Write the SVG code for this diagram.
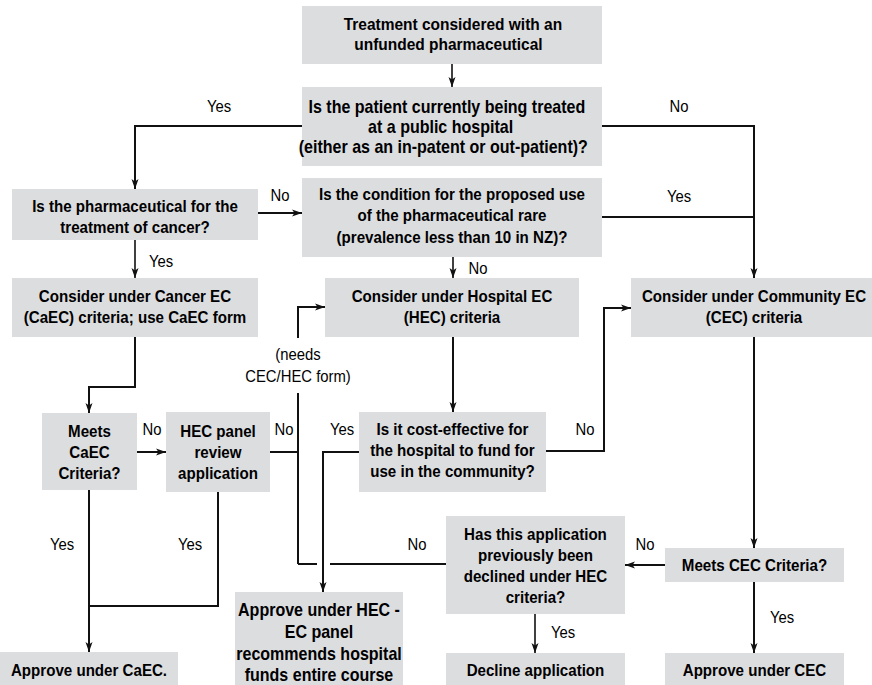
<svg xmlns="http://www.w3.org/2000/svg" width="872" height="685" viewBox="0 0 872 685">
<style>
.box{fill:#dcdddf;stroke:none}
.b{font-family:"Liberation Sans",Arial,sans-serif;font-weight:bold;font-size:16.8px;fill:#000;text-anchor:middle}
.b16{font-size:17.8px}
.l{font-family:"Liberation Sans",Arial,sans-serif;font-size:16.5px;fill:#000;text-anchor:middle}
.c path{fill:none;stroke:#111;stroke-width:2}
.c path.t{stroke-width:1.6}
</style>
<defs>
<marker id="ah" markerUnits="userSpaceOnUse" markerWidth="12" markerHeight="10" refX="10" refY="4" orient="auto">
<path d="M0,0.5 L10,4 L0,7.5 L2.5,4 z" fill="#111"/>
</marker>
</defs>
<rect width="872" height="685" fill="#fff"/>

<g class="c">
<path class="t" d="M452,64 V87" marker-end="url(#ah)"/>
<path d="M302,126 H135 V189" marker-end="url(#ah)"/>
<path d="M602,126 H754 V278" marker-end="url(#ah)"/>
<path d="M602,217 H754"/>
<path d="M258,213 H302" marker-end="url(#ah)"/>
<path class="t" d="M453,257 V278" marker-end="url(#ah)"/>
<path class="t" d="M135,240 V278" marker-end="url(#ah)"/>
<path d="M135,337 V387 H89 V413" marker-end="url(#ah)"/>
<path d="M137,452 H166" marker-end="url(#ah)"/>
<path d="M270,452 H298"/>
<path d="M298,564 V393"/>
<path d="M298,338 V307 H325" marker-end="url(#ah)"/>
<path d="M446,564 H330 M317,564 H298"/>
<path d="M359,452 H323 V592" marker-end="url(#ah)"/>
<path d="M546,451 H604 V308 H631" marker-end="url(#ah)"/>
<path d="M453,337 V412" marker-end="url(#ah)"/>
<path d="M754,337 V548" marker-end="url(#ah)"/>
<path d="M665,565 H625" marker-end="url(#ah)"/>
<path class="t" d="M535,614 V653" marker-end="url(#ah)"/>
<path d="M754,582 V653" marker-end="url(#ah)"/>
<path d="M89,490 V652" marker-end="url(#ah)"/>
<path d="M218,492 V606 H89"/>
</g>

<g id="labels">
<text class="l" x="219" y="112" transform="matrix(0.9 0 0 1 21.9 0)">Yes</text>
<text class="l" x="679" y="112" transform="matrix(0.9 0 0 1 67.9 0)">No</text>
<text class="l" x="280" y="201" transform="matrix(0.9 0 0 1 28 0)">No</text>
<text class="l" x="679" y="202" transform="matrix(0.9 0 0 1 67.9 0)">Yes</text>
<text class="l" x="161" y="267" transform="matrix(0.9 0 0 1 16.1 0)">Yes</text>
<text class="l" x="478" y="274" transform="matrix(0.9 0 0 1 47.8 0)">No</text>
<text class="l" x="298" y="360" transform="matrix(0.9 0 0 1 29.8 0)">(needs</text>
<text class="l" x="298" y="382" transform="matrix(0.9 0 0 1 29.8 0)">CEC/HEC form)</text>
<text class="l" x="152" y="435" transform="matrix(0.9 0 0 1 15.2 0)">No</text>
<text class="l" x="284" y="435" transform="matrix(0.9 0 0 1 28.4 0)">No</text>
<text class="l" x="342" y="435" transform="matrix(0.9 0 0 1 34.2 0)">Yes</text>
<text class="l" x="585" y="435" transform="matrix(0.9 0 0 1 58.5 0)">No</text>
<text class="l" x="62" y="550" transform="matrix(0.9 0 0 1 6.2 0)">Yes</text>
<text class="l" x="190" y="550" transform="matrix(0.9 0 0 1 19 0)">Yes</text>
<text class="l" x="417" y="550" transform="matrix(0.9 0 0 1 41.7 0)">No</text>
<text class="l" x="645" y="550" transform="matrix(0.9 0 0 1 64.5 0)">No</text>
<text class="l" x="563" y="638" transform="matrix(0.9 0 0 1 56.3 0)">Yes</text>
<text class="l" x="782" y="623" transform="matrix(0.9 0 0 1 78.2 0)">Yes</text>
</g>

<g id="n1"><rect class="box" x="302" y="6" width="300" height="58"/>
<g transform="matrix(0.9 0 0 1 45.2 0)">
<text class="b" style="font-size:17.2px" x="453" y="30">Treatment considered with an</text>
<text class="b" style="font-size:17.2px" x="448" y="50">unfunded pharmaceutical</text></g></g>

<g id="n2"><rect class="box" x="302" y="87" width="300" height="79"/>
<g transform="matrix(0.9 0 0 1 44.6 0)">
<text class="b b16" x="447" y="113">Is the patient currently being treated</text>
<text class="b b16" x="440" y="133">at a public hospital</text>
<text class="b b16" x="443" y="153">(either as an in-patent or out-patient)?</text></g></g>

<g id="n3"><rect class="box" x="12" y="189" width="246" height="51"/>
<g transform="matrix(0.9 0 0 1 13.5 0)">
<text class="b" x="135" y="212">Is the pharmaceutical for the</text>
<text class="b" x="135" y="233">treatment of cancer?</text></g></g>

<g id="n4"><rect class="box" x="302" y="178" width="300" height="79"/>
<g transform="matrix(0.9 0 0 1 45.2 0)">
<text class="b" x="452" y="200">Is the condition for the proposed use</text>
<text class="b" x="452" y="221.5">of the pharmaceutical rare</text>
<text class="b" x="452" y="243">(prevalence less than 10 in NZ)?</text></g></g>

<g id="n5"><rect class="box" x="12" y="278" width="246" height="59"/>
<g transform="matrix(0.9 0 0 1 13.5 0)">
<text class="b" x="135" y="302">Consider under Cancer EC</text>
<text class="b" x="135" y="323">(CaEC) criteria; use CaEC form</text></g></g>

<g id="n6"><rect class="box" x="325" y="278" width="254" height="59"/>
<g transform="matrix(0.9 0 0 1 45.2 0)">
<text class="b" x="452" y="302">Consider under Hospital EC</text>
<text class="b" x="452" y="323">(HEC) criteria</text></g></g>

<g id="n7"><rect class="box" x="631" y="278" width="245" height="59"/>
<g transform="matrix(0.9 0 0 1 75.4 0)">
<text class="b" x="754" y="302">Consider under Community EC</text>
<text class="b" x="754" y="323">(CEC) criteria</text></g></g>

<g id="n8"><rect class="box" x="42" y="413" width="95" height="77"/>
<g transform="matrix(0.9 0 0 1 8.95 0)">
<text class="b" x="89.5" y="437">Meets</text>
<text class="b" x="89.5" y="458">CaEC</text>
<text class="b" x="89.5" y="479">Criteria?</text></g></g>

<g id="n9"><rect class="box" x="166" y="412" width="104" height="80"/>
<g transform="matrix(0.9 0 0 1 21.8 0)">
<text class="b" x="218" y="437">HEC panel</text>
<text class="b" x="218" y="458">review</text>
<text class="b" x="218" y="479">application</text></g></g>

<g id="n10"><rect class="box" x="359" y="412" width="187" height="80"/>
<g transform="matrix(0.9 0 0 1 45.25 0)">
<text class="b" x="452.5" y="435">Is it cost-effective for</text>
<text class="b" x="452.5" y="456">the hospital to fund for</text>
<text class="b" x="452.5" y="477">use in the community?</text></g></g>

<g id="n11"><rect class="box" x="446" y="516" width="179" height="98"/>
<g transform="matrix(0.9 0 0 1 53.55 0)">
<text class="b" x="535.5" y="540">Has this application</text>
<text class="b" x="535.5" y="561">previously been</text>
<text class="b" x="535.5" y="582">declined under HEC</text>
<text class="b" x="535.5" y="603">criteria?</text></g></g>

<g id="n12"><rect class="box" x="665" y="548" width="179" height="34"/>
<g transform="matrix(0.9 0 0 1 75.45 0)">
<text class="b" x="754.5" y="571">Meets CEC Criteria?</text></g></g>

<g id="n13"><rect class="box" x="-2" y="652" width="180" height="40"/>
<g transform="matrix(0.9 0 0 1 8.9 0)">
<text class="b" x="89" y="676">Approve under CaEC.</text></g></g>

<g id="n14"><rect class="box" x="235" y="592" width="168" height="100"/>
<g transform="matrix(0.9 0 0 1 31.9 0)">
<text class="b b16" x="319" y="616">Approve under HEC -</text>
<text class="b b16" x="319" y="638">EC panel</text>
<text class="b b16" x="319" y="660">recommends hospital</text>
<text class="b b16" x="319" y="681">funds entire course</text></g></g>

<g id="n15"><rect class="box" x="446" y="653" width="179" height="40"/>
<g transform="matrix(0.9 0 0 1 53.55 0)">
<text class="b" x="535.5" y="676">Decline application</text></g></g>

<g id="n16"><rect class="box" x="665" y="653" width="179" height="40"/>
<g transform="matrix(0.9 0 0 1 75.45 0)">
<text class="b" x="754.5" y="676">Approve under CEC</text></g></g>
</svg>
